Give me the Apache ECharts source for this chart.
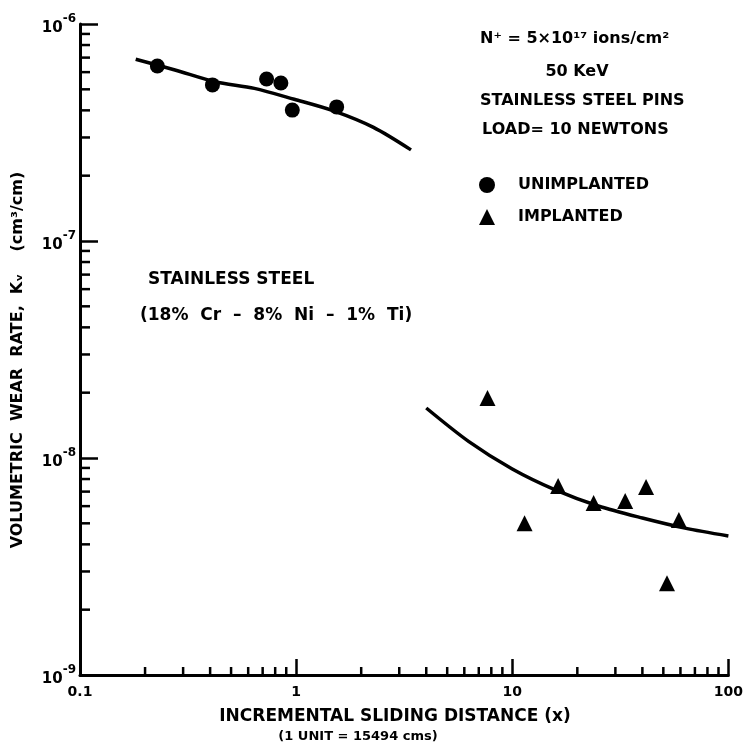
<!DOCTYPE html>
<html><head><meta charset="utf-8">
<script src="https://cdn.jsdelivr.net/npm/echarts@6/dist/echarts.min.js"></script>
<style>html,body{margin:0;padding:0;background:#fff}#c{width:746px;height:747px}</style>
</head><body><div id="c"></div>
<script>
// ---- data ----
const xTickValues = [0.1, 1, 10, 100];
const xTickLabels = ['0.1', '1', '10', '100'];
const yTickValues = [1e-9, 1e-8, 1e-7, 1e-6];
const yTickExps = ['-9', '-8', '-7', '-6'];
const xMinorTicks = [0.2,0.3,0.4,0.5,0.6,0.7,0.8,0.9, 2,3,4,5,6,7,8,9, 20,30,40,50,60,70,80,90];
const yMinorTicks = [2e-9,3e-9,4e-9,5e-9,6e-9,7e-9,8e-9,9e-9, 2e-8,3e-8,4e-8,5e-8,6e-8,7e-8,8e-8,9e-8, 2e-7,3e-7,4e-7,5e-7,6e-7,7e-7,8e-7,9e-7];

const unimplantedX = [0.228, 0.41, 0.73, 0.85, 0.96, 1.54];
const unimplantedY = [6.4e-7, 5.24e-7, 5.58e-7, 5.35e-7, 4.01e-7, 4.15e-7];
const unimplantedFitX = [0.181, 0.275, 0.421, 0.641, 0.98, 1.49, 2.28, 3.40];
const unimplantedFitY = [6.88e-7, 6.14e-7, 5.42e-7, 5.05e-7, 4.50e-7, 3.98e-7, 3.34e-7, 2.63e-7];

const implantedX = [7.68, 11.4, 16.3, 23.8, 33.3, 41.6, 52.0, 59.0];
const implantedY = [1.89e-8, 5.0e-9, 7.43e-9, 6.21e-9, 6.34e-9, 7.35e-9, 2.65e-9, 5.18e-9];
const implantedFitX = [4.0, 6.3, 10, 15.8, 25, 40, 63, 100];
const implantedFitY = [1.70e-8, 1.19e-8, 8.90e-9, 7.13e-9, 6.01e-9, 5.29e-9, 4.75e-9, 4.37e-9];

const seriesNames = ['UNIMPLANTED', 'IMPLANTED'];
const xAxisTitle = ['INCREMENTAL SLIDING DISTANCE (x)', '(1 UNIT = 15494 cms)'];
const yAxisTitle = 'VOLUMETRIC  WEAR  RATE,  Kᵥ    (cm³/cm)';
const notesRight = ['N⁺ = 5×10¹⁷ ions/cm²', '50 KeV', 'STAINLESS STEEL PINS', 'LOAD= 10 NEWTONS'];
const notesLeft = ['STAINLESS STEEL', '(18%  Cr  –  8%  Ni  –  1%  Ti)'];

// ---- chart ----
const FONT = 'DejaVu Sans';
const zip = (a, b) => a.map((v, i) => [v, b[i]]);
const chart = echarts.init(document.getElementById('c'), null, {renderer: 'canvas'});

function tickSeries(data, vertical, len) {
  return {
    type: 'custom', silent: true, clip: false, z: 5,
    data: data,
    renderItem: (params, api) => {
      const p = api.coord([api.value(0), api.value(1)]);
      const shape = vertical
        ? {x1: p[0], y1: p[1], x2: p[0], y2: p[1] - len}
        : {x1: p[0], y1: p[1], x2: p[0] + len, y2: p[1]};
      return {type: 'line', shape: shape, style: {stroke: '#000', lineWidth: 2.5}};
    }
  };
}

const txt = (text, x, y, size, align, extra) => Object.assign({
  type: 'text', x: x, y: y,
  style: {text: text, fill: '#000', font: 'bold ' + size + 'px "' + FONT + '"', textAlign: align || 'left', textVerticalAlign: 'middle'}
}, extra || {});

chart.setOption({
  animation: false,
  backgroundColor: '#fff',
  grid: {left: 80, right: 13, top: 24, bottom: 72, containLabel: false},
  xAxis: {
    type: 'log', logBase: 10, min: 0.1, max: 100,
    axisLine: {lineStyle: {color: '#000', width: 3}},
    axisTick: {inside: true, length: 16, lineStyle: {color: '#000', width: 2.5}},
    minorTick: {show: false},
    splitLine: {show: false},
    axisLabel: {
      color: '#000', fontFamily: FONT, fontWeight: 'bold', fontSize: 14, margin: 10,
      formatter: v => { const i = xTickValues.findIndex(t => Math.abs(Math.log10(t) - Math.log10(v)) < 1e-6); return i >= 0 ? xTickLabels[i] : ''; }
    }
  },
  yAxis: {
    type: 'log', logBase: 10, min: 1e-9, max: 1e-6,
    axisLine: {lineStyle: {color: '#000', width: 3}},
    axisTick: {inside: true, length: 18, lineStyle: {color: '#000', width: 2.5}},
    minorTick: {show: false},
    splitLine: {show: false},
    axisLabel: {
      color: '#000', margin: 4,
      formatter: v => { const i = yTickValues.findIndex(t => Math.abs(Math.log10(t) - Math.log10(v)) < 1e-6); return i >= 0 ? '{b|10}{s|' + yTickExps[i] + '}' : ''; },
      rich: {
        b: {fontFamily: FONT, fontWeight: 'bold', fontSize: 15, color: '#000', verticalAlign: 'bottom', padding: [8, 0, 0, 0]},
        s: {fontFamily: FONT, fontWeight: 'bold', fontSize: 12, color: '#000', verticalAlign: 'top', padding: [0, 0, 8, 0]}
      }
    }
  },
  legend: {
    orient: 'vertical', left: 474, top: 172, itemGap: 16, itemWidth: 16, itemHeight: 16,
    data: seriesNames,
    textStyle: {color: '#000', fontFamily: FONT, fontWeight: 'bold', fontSize: 16, padding: [0, 0, 0, 18]}
  },
  graphic: [
    txt(notesRight[0], 480, 39, 16),
    txt(notesRight[1], 577, 72, 16, 'center'),
    txt(notesRight[2], 480, 101, 16),
    txt(notesRight[3], 482, 130, 16),
    txt(notesLeft[0], 148, 280, 17),
    txt(notesLeft[1], 140, 316, 17),
    txt(xAxisTitle[0], 395, 717, 17, 'center'),
    txt(xAxisTitle[1], 358, 737, 13, 'center'),
    txt(yAxisTitle, 18, 360, 16, 'center', {rotation: Math.PI / 2})
  ],
  series: [
    {name: seriesNames[0], type: 'scatter', symbol: 'circle', symbolSize: 15, z: 4,
     itemStyle: {color: '#000', opacity: 1}, data: zip(unimplantedX, unimplantedY)},
    {name: seriesNames[1], type: 'scatter', symbol: 'triangle', symbolSize: 16, z: 4,
     itemStyle: {color: '#000', opacity: 1}, data: zip(implantedX, implantedY)},
    {name: 'fitU', type: 'line', smooth: 0.3, symbol: 'none', z: 3,
     lineStyle: {color: '#000', width: 3.5}, data: zip(unimplantedFitX, unimplantedFitY)},
    {name: 'fitI', type: 'line', smooth: 0.3, symbol: 'none', z: 3,
     lineStyle: {color: '#000', width: 3.5}, data: zip(implantedFitX, implantedFitY)},
    tickSeries(xMinorTicks.map(v => [v, 1e-9]), true, 8),
    tickSeries(yMinorTicks.map(v => [0.1, v]), false, 10)
  ]
});
</script></body></html>
